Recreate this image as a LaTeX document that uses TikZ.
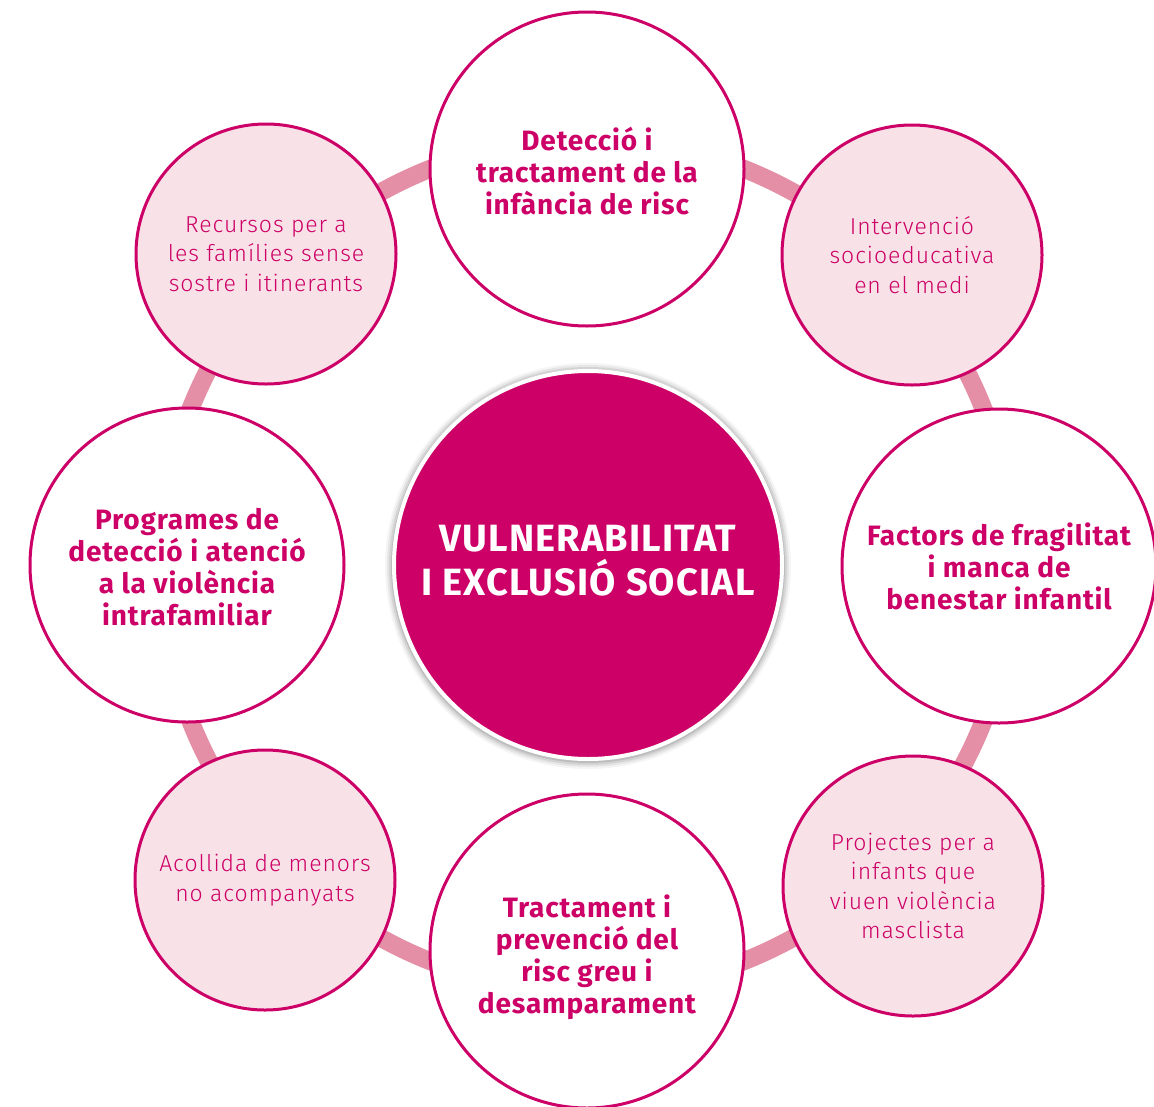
\documentclass[tikz,border=0pt]{standalone}
\usepackage{fontspec}
\setmainfont{Fira Sans}[LetterSpace=3]
\IfFontExistsTF{Fira Sans Light}{\newfontfamily\lightfont{Fira Sans Light}[LetterSpace=4]}{\newfontfamily\lightfont{Fira Sans}[LetterSpace=4]}
\definecolor{mag}{HTML}{CC0066}
\definecolor{ringc}{HTML}{E48FA6}
\definecolor{softpink}{HTML}{F8E2E7}
\tikzset{
  bigc/.style={circle, draw=mag, line width=3pt, fill=white, minimum size=314pt, inner sep=0pt},
  bigtext/.style={align=center, text=mag, inner sep=0pt, font=\bfseries\fontsize{28}{32}\selectfont},
  smallc/.style={circle, draw=mag, line width=3pt, fill=softpink, minimum size=260pt, inner sep=0pt, align=center, text=mag, font=\lightfont\fontsize{23}{29.5}\selectfont},
  centerc/.style={circle, draw=white, line width=4pt, fill=mag, minimum size=388pt, inner sep=0pt},
  centertext/.style={text=white, align=center, font=\bfseries\fontsize{38}{44}\selectfont},
  ringline/.style={draw=ringc, line width=18pt}
}
\begin{document}
\begin{tikzpicture}[x=1pt,y=-1pt]
\useasboundingbox (0,0) rectangle (1154,1106);
\fill[white] (0,0) rectangle (1154,1106);
% ring
\draw[ringline] (587,565) circle[radius=426];
% shadow of central circle
\foreach \r/\o in {203/0.04,201/0.06,199/0.08,197/0.10}{
  \fill[black,opacity=\o] (588,566) circle[radius=\r];
}
\node[centerc] (core) at (588,565) {};
\node[centertext] (coretext) at (588,561) {VULNERABILITAT\\I EXCLUSIÓ SOCIAL};
% big circles
\node[bigc] (top) at (587,169) {};
\node[bigtext] (toptext) at ([yshift=-2pt]top.center) {Detecció i\\tractament de la\\infància de risc};
\node[bigc] (right) at (999,566) {};
\node[bigtext] (righttext) at (right.center) {Factors de fragilitat\\i manca de\\benestar infantil};
\node[bigc] (bottom) at (587,951) {};
\node[bigtext] (bottomtext) at ([yshift=-6pt]bottom.center) {Tractament i\\prevenció del\\risc greu i\\desamparament};
\node[bigc] (left) at (187,565) {};
\node[bigtext] (lefttext) at ([yshift=-2pt]left.center) {Programes de\\detecció i atenció\\a la violència\\intrafamiliar};
% small circles
\node[smallc] (tl) at (266,254) {Recursos per a\\les famílies sense\\sostre i itinerants};
\node[smallc] (tr) at (912,255) {Intervenció\\socioeducativa\\en el medi};
\node[smallc] (bl) at (265,880) {Acollida de menors\\no acompanyats};
\node[smallc] (br) at (913,886) {Projectes per a\\infants que\\viuen violència\\masclista};
\end{tikzpicture}
\end{document}
